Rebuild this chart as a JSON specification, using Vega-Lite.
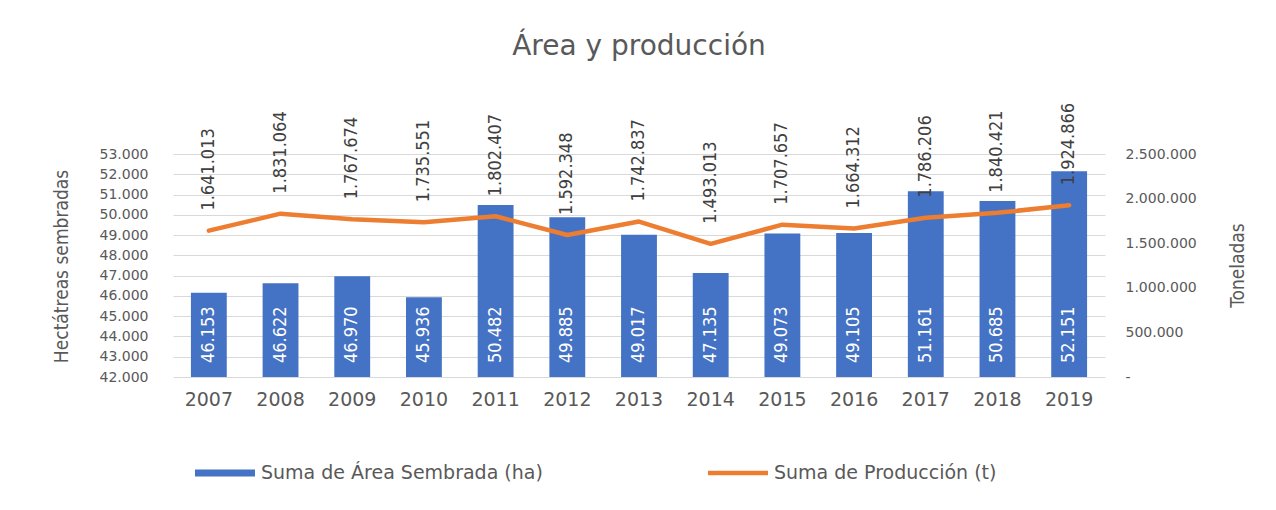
{
  "$schema": "https://vega.github.io/schema/vega-lite/v6.json",
  "width": 932,
  "height": 223,
  "autosize": {"type": "none"},
  "padding": {"left": 173, "top": 154, "right": 171, "bottom": 133},
  "background": "white",
  "title": {"text": "Área y producción", "font": "DejaVu Sans", "fontSize": 28, "fontWeight": "normal", "color": "#595959", "frame": "group", "anchor": "middle", "baseline": "alphabetic", "offset": 20},
  "data": {"values": [
    {"year": "2007", "area": 46153, "prod": 1641013},
    {"year": "2008", "area": 46622, "prod": 1831064},
    {"year": "2009", "area": 46970, "prod": 1767674},
    {"year": "2010", "area": 45936, "prod": 1735551},
    {"year": "2011", "area": 50482, "prod": 1802407},
    {"year": "2012", "area": 49885, "prod": 1592348},
    {"year": "2013", "area": 49017, "prod": 1742837},
    {"year": "2014", "area": 47135, "prod": 1493013},
    {"year": "2015", "area": 49073, "prod": 1707657},
    {"year": "2016", "area": 49105, "prod": 1664312},
    {"year": "2017", "area": 51161, "prod": 1786206},
    {"year": "2018", "area": 50685, "prod": 1840421},
    {"year": "2019", "area": 52151, "prod": 1924866}
  ]},
  "encoding": {
    "x": {"field": "year", "type": "ordinal", "scale": {"paddingInner": 0.5, "paddingOuter": 0.25},
      "axis": {"labelFontSize": 19, "labelAngle": 0, "labelPadding": 13, "title": null, "grid": false}}
  },
  "layer": [
    {
      "encoding": {
        "y": {"field": "area", "type": "quantitative", "scale": {"domain": [42000, 53000], "zero": false, "nice": false},
          "axis": {"values": [42000, 43000, 44000, 45000, 46000, 47000, 48000, 49000, 50000, 51000, 52000, 53000], "format": ",d", "labelFontSize": 14, "labelPadding": 25, "grid": true, "gridColor": "#D9D9D9", "gridWidth": 1,
            "title": "Hectátreas sembradas", "titleFont": "'DejaVu Sans Condensed', 'Roboto Condensed', Roboto", "titleFontSize": 19, "titleFontWeight": "normal", "titleAngle": 270, "titleX": -106, "titleY": 112, "titleAlign": "center", "titleBaseline": "alphabetic"}}
      },
      "layer": [
        {
          "mark": {"type": "bar"},
          "encoding": {
            "y2": {"datum": 42000},
            "color": {"datum": "Suma de Área Sembrada (ha)", "type": "nominal",
              "scale": {"domain": ["Suma de Área Sembrada (ha)", "Suma de Producción (t)"], "range": ["#4472C4", "#ED7D31"]},
              "legend": {"orient": "none", "legendX": 22, "legendY": 289, "direction": "horizontal", "title": null,
                "labelFont": "DejaVu Sans", "labelFontSize": 19, "labelColor": "#595959", "labelLimit": 500, "symbolSize": 3600, "columnPadding": 165, "labelOffset": 6,
                "symbolStrokeWidth": 0,
                "encode": {"symbols": {"update": {
                  "shape": {"signal": "datum.value === 'Suma de Área Sembrada (ha)' ? 'M-1,-0.12H1V0.12H-1Z' : 'M-1,-0.075H1V0.075H-1Z'"},
                  "fill": {"signal": "scale('color', datum.value)"},
                  "stroke": {"value": "transparent"}}}}}
            }
          }
        },
        {
          "mark": {"type": "text", "angle": 270, "align": "left", "baseline": "middle", "dx": 14, "color": "white", "font": "'DejaVu Sans Condensed', 'Roboto Condensed', Roboto", "fontSize": 18},
          "encoding": {
            "y": {"datum": 42000, "type": "quantitative"},
            "text": {"field": "area", "type": "quantitative", "format": ",d"}
          }
        }
      ]
    },
    {
      "encoding": {
        "y": {"field": "prod", "type": "quantitative", "scale": {"domain": [0, 2500000], "nice": false},
          "axis": {"orient": "right", "values": [0, 500000, 1000000, 1500000, 2000000, 2500000], "format": ",d", "labelExpr": "datum.value === 0 ? '-' : datum.label", "labelFontSize": 14, "labelPadding": 20, "grid": false,
            "title": "Toneladas", "titleFont": "'DejaVu Sans Condensed', 'Roboto Condensed', Roboto", "titleFontSize": 19, "titleFontWeight": "normal", "titleAngle": 270, "titleX": 138, "titleY": 111, "titleAlign": "center", "titleBaseline": "alphabetic"}}
      },
      "layer": [
        {
          "mark": {"type": "line", "strokeWidth": 4.5, "strokeCap": "round", "strokeJoin": "round"},
          "encoding": {
            "color": {"datum": "Suma de Producción (t)", "type": "nominal"}
          }
        },
        {
          "mark": {"type": "text", "angle": 270, "align": "left", "baseline": "middle", "dx": 20, "color": "#404040", "font": "'DejaVu Sans Condensed', 'Roboto Condensed', Roboto", "fontSize": 18},
          "encoding": {
            "text": {"field": "prod", "type": "quantitative", "format": ",d"}
          }
        }
      ]
    }
  ],
  "resolve": {"scale": {"y": "independent"}},
  "config": {
    "locale": {"number": {"decimal": ",", "thousands": ".", "grouping": [3], "currency": ["", ""]}},
    "view": {"stroke": null},
    "axis": {"labelFont": "DejaVu Sans", "labelColor": "#595959", "domain": false, "ticks": false, "titleColor": "#595959"}
  }
}
